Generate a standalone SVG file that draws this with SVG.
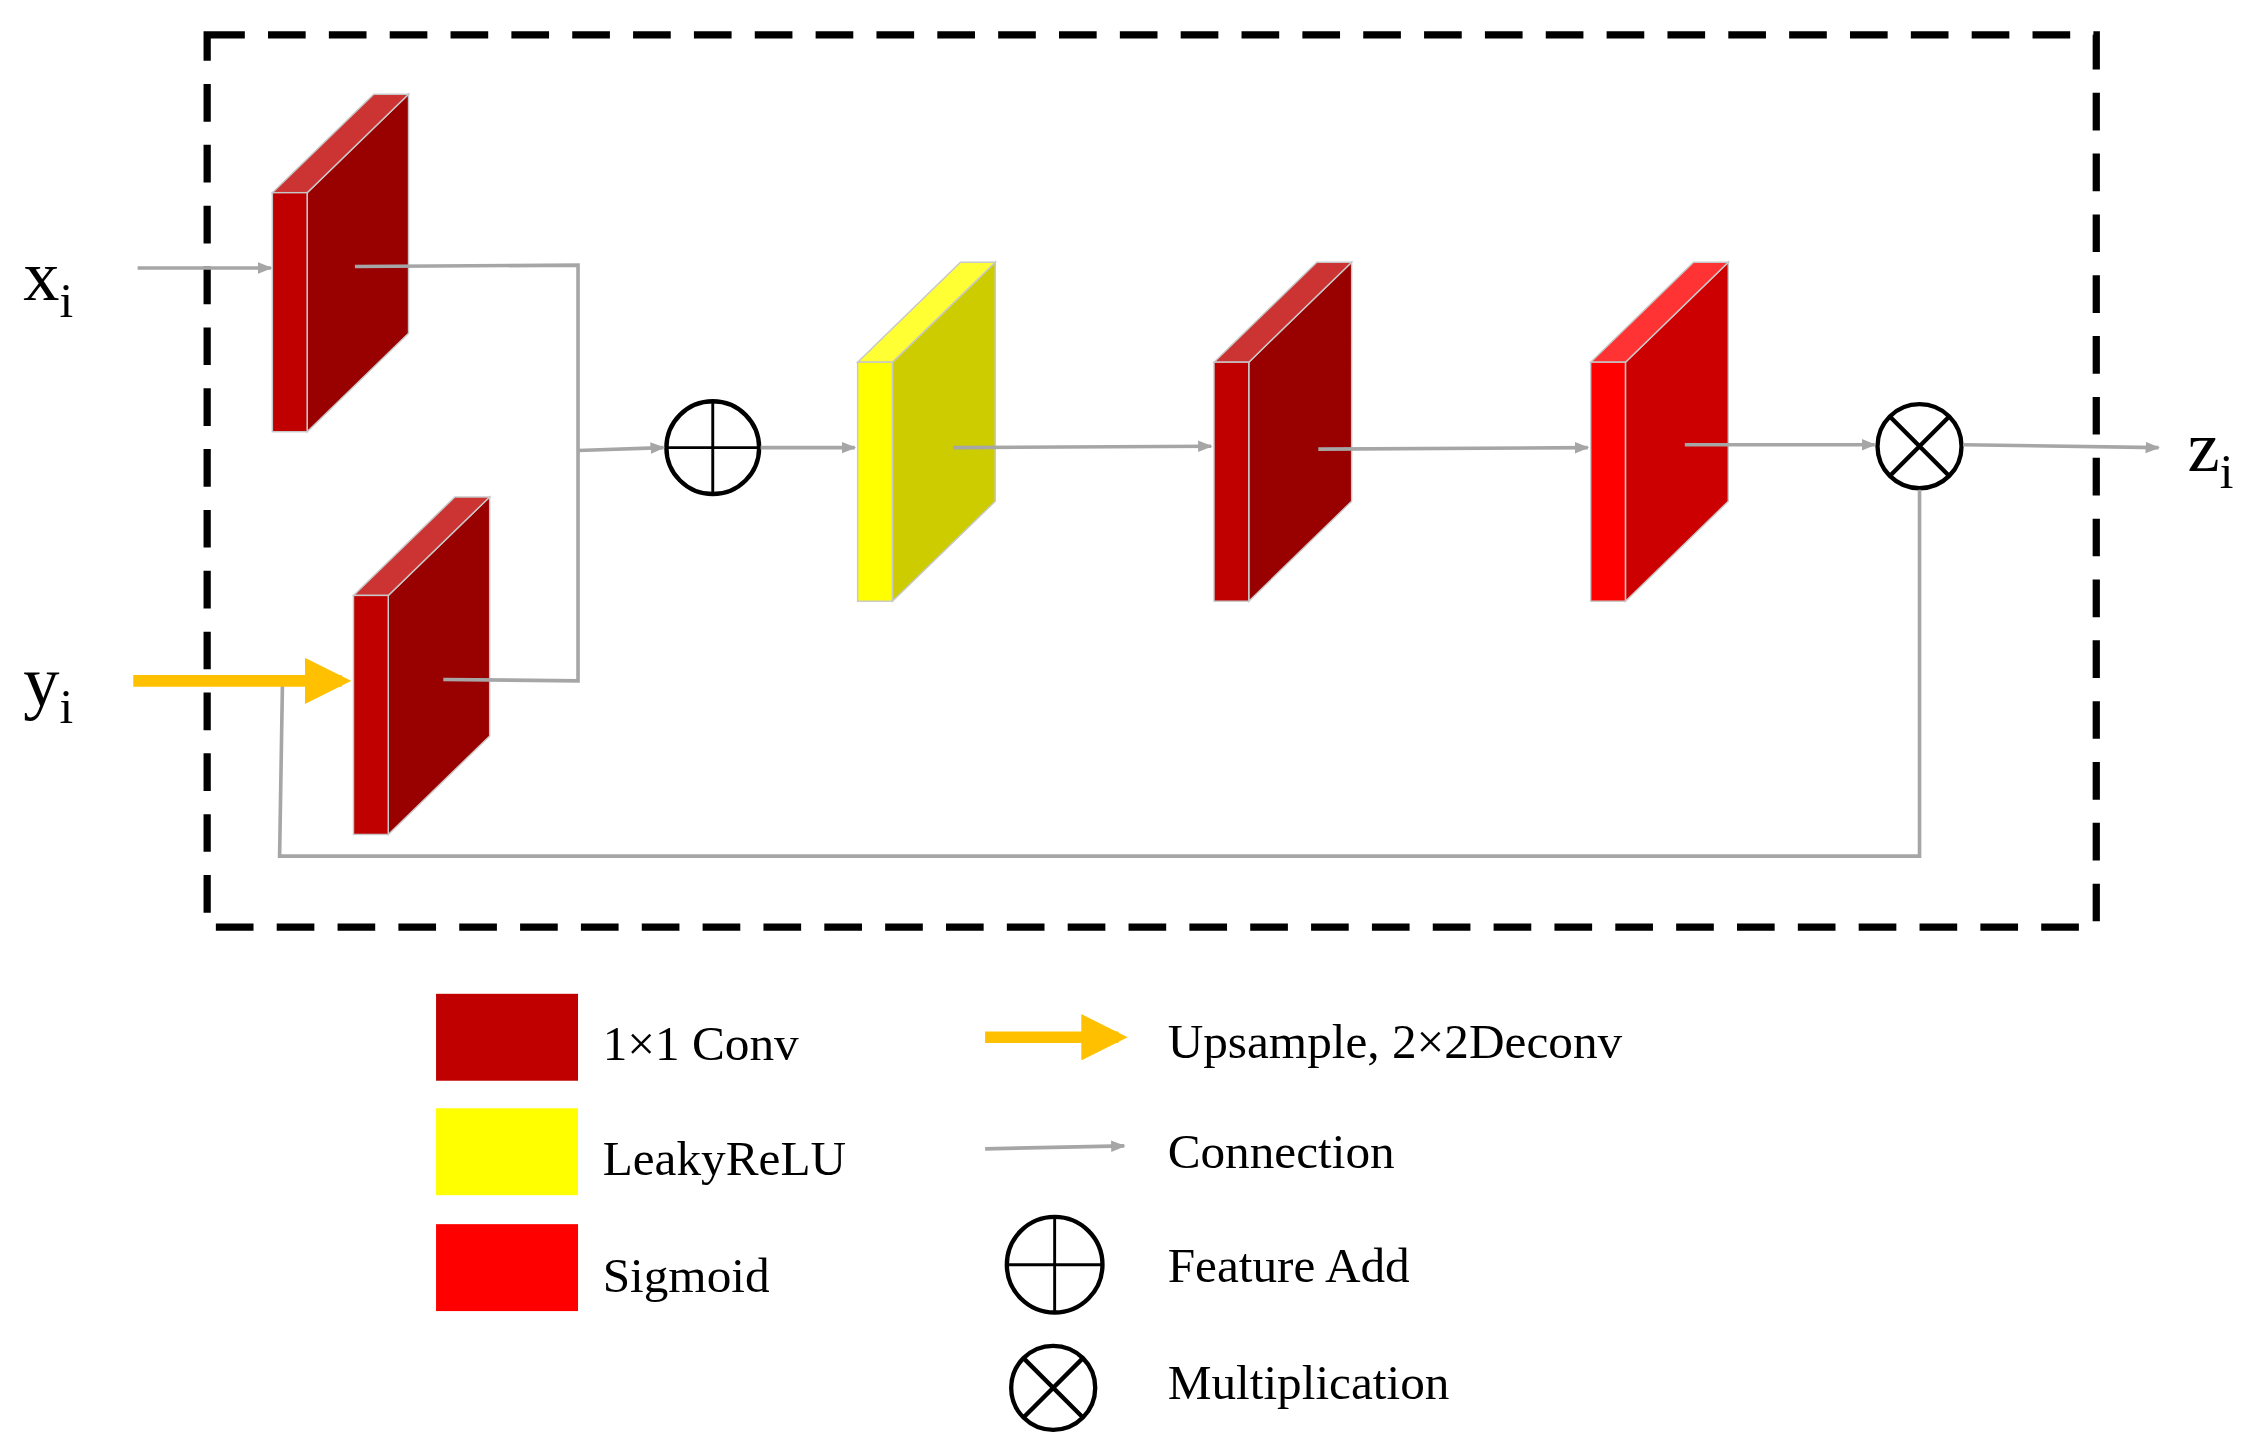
<svg xmlns="http://www.w3.org/2000/svg" width="2260" height="1441" viewBox="0 0 2260 1441">
<defs>
<style>
.ln{fill:none;stroke:#a6a6a6;stroke-width:2.5}
.t{font-family:"Liberation Serif",serif;fill:#000}
.c{fill:#fff;stroke:#000;stroke-width:3}
</style>
<marker id="ga" viewBox="0 0 10 10" refX="9" refY="5" markerWidth="4" markerHeight="4" orient="auto"><path d="M0,1 L10,5 L0,9 z" fill="#a6a6a6"/></marker>
<marker id="ya" viewBox="0 0 10 10" refX="8" refY="5" markerWidth="4" markerHeight="4" orient="auto"><path d="M0,0 L10,5 L0,10 z" fill="#ffc000"/></marker>
</defs>
<rect width="2260" height="1441" fill="#fff"/>
<g transform="scale(1.4487)">
<rect x="143" y="24" width="1304" height="616" fill="none" stroke="#000" stroke-width="5" stroke-dasharray="26 16"/>
<g id="conv1">
<polygon points="212,133 282,65 282,230 212,298" fill="#990000" stroke="#c8c8c8"/>
<polygon points="188,133 258,65 282,65 212,133" fill="#cc3333" stroke="#c8c8c8"/>
<rect x="188" y="133" width="24" height="165" fill="#c00000" stroke="#c8c8c8"/>
</g>
<g id="conv2">
<polygon points="268,411 338,343 338,508 268,576" fill="#990000" stroke="#c8c8c8"/>
<polygon points="244,411 314,343 338,343 268,411" fill="#cc3333" stroke="#c8c8c8"/>
<rect x="244" y="411" width="24" height="165" fill="#c00000" stroke="#c8c8c8"/>
</g>
<g id="leaky">
<polygon points="616,250 687,181 687,346 616,415" fill="#cccc00" stroke="#c8c8c8"/>
<polygon points="592,250 663,181 687,181 616,250" fill="#ffff33" stroke="#c8c8c8"/>
<rect x="592" y="250" width="24" height="165" fill="#ffff00" stroke="#c8c8c8"/>
</g>
<g id="conv3">
<polygon points="862,250 933,181 933,346 862,415" fill="#990000" stroke="#c8c8c8"/>
<polygon points="838,250 909,181 933,181 862,250" fill="#cc3333" stroke="#c8c8c8"/>
<rect x="838" y="250" width="24" height="165" fill="#c00000" stroke="#c8c8c8"/>
</g>
<g id="sigmoid">
<polygon points="1122,250 1193,181 1193,346 1122,415" fill="#cc0000" stroke="#c8c8c8"/>
<polygon points="1098,250 1169,181 1193,181 1122,250" fill="#ff3333" stroke="#c8c8c8"/>
<rect x="1098" y="250" width="24" height="165" fill="#ff0000" stroke="#c8c8c8"/>
</g>
<g id="add"><circle class="c" cx="492" cy="309" r="32"/><path d="M460,309H524M492,277V341" stroke="#000" stroke-width="2"/></g>
<g id="mul"><circle class="c" cx="1325" cy="308" r="29"/><path d="M1305,288L1345,328M1345,288L1305,328" stroke="#000" stroke-width="3"/></g>
<g id="connectors">
<path class="ln" d="M95,185H187" marker-end="url(#ga)"/>
<path class="ln" d="M245,184L399,183V470L306,469"/>
<path class="ln" d="M399,311L458,309" marker-end="url(#ga)"/>
<path class="ln" d="M525,309H590" marker-end="url(#ga)"/>
<path class="ln" d="M658,309L836,308" marker-end="url(#ga)"/>
<path class="ln" d="M910,310L1096,309" marker-end="url(#ga)"/>
<path class="ln" d="M1163,307H1294" marker-end="url(#ga)"/>
<path class="ln" d="M1355,307L1490,309" marker-end="url(#ga)"/>
<path class="ln" d="M1325,338V591H193L195,470"/>
<path d="M92,470H236" stroke="#ffc000" stroke-width="8" fill="none" marker-end="url(#ya)"/>
</g>
<text class="t" x="16" y="207" font-size="50">x<tspan font-size="34" dy="12">i</tspan></text>
<text class="t" x="16" y="487" font-size="50">y<tspan font-size="34" dy="12">i</tspan></text>
<text class="t" x="1510" y="325" font-size="50">z<tspan font-size="34" dy="12">i</tspan></text>
<g id="legend">
<rect x="301" y="686" width="98" height="60" fill="#c00000"/>
<rect x="301" y="765" width="98" height="60" fill="#ffff00"/>
<rect x="301" y="845" width="98" height="60" fill="#ff0000"/>
<text class="t" x="416" y="732" font-size="34">1×1 Conv</text>
<text class="t" x="416" y="811" font-size="34">LeakyReLU</text>
<text class="t" x="416" y="892" font-size="34">Sigmoid</text>
<path d="M680,716H772" stroke="#ffc000" stroke-width="8" fill="none" marker-end="url(#ya)"/>
<path class="ln" d="M680,793L776,791" marker-end="url(#ga)"/>
<circle class="c" cx="728" cy="873" r="33"/><path d="M695,873H761M728,840V906" stroke="#000" stroke-width="2"/>
<circle class="c" cx="727" cy="958" r="29"/><path d="M707,938L747,978M747,938L707,978" stroke="#000" stroke-width="3"/>
<text class="t" x="806" y="730" font-size="34">Upsample, 2×2Deconv</text>
<text class="t" x="806" y="806" font-size="34">Connection</text>
<text class="t" x="806" y="885" font-size="34">Feature Add</text>
<text class="t" x="806" y="966" font-size="34">Multiplication</text>
</g>
</g>
</svg>
